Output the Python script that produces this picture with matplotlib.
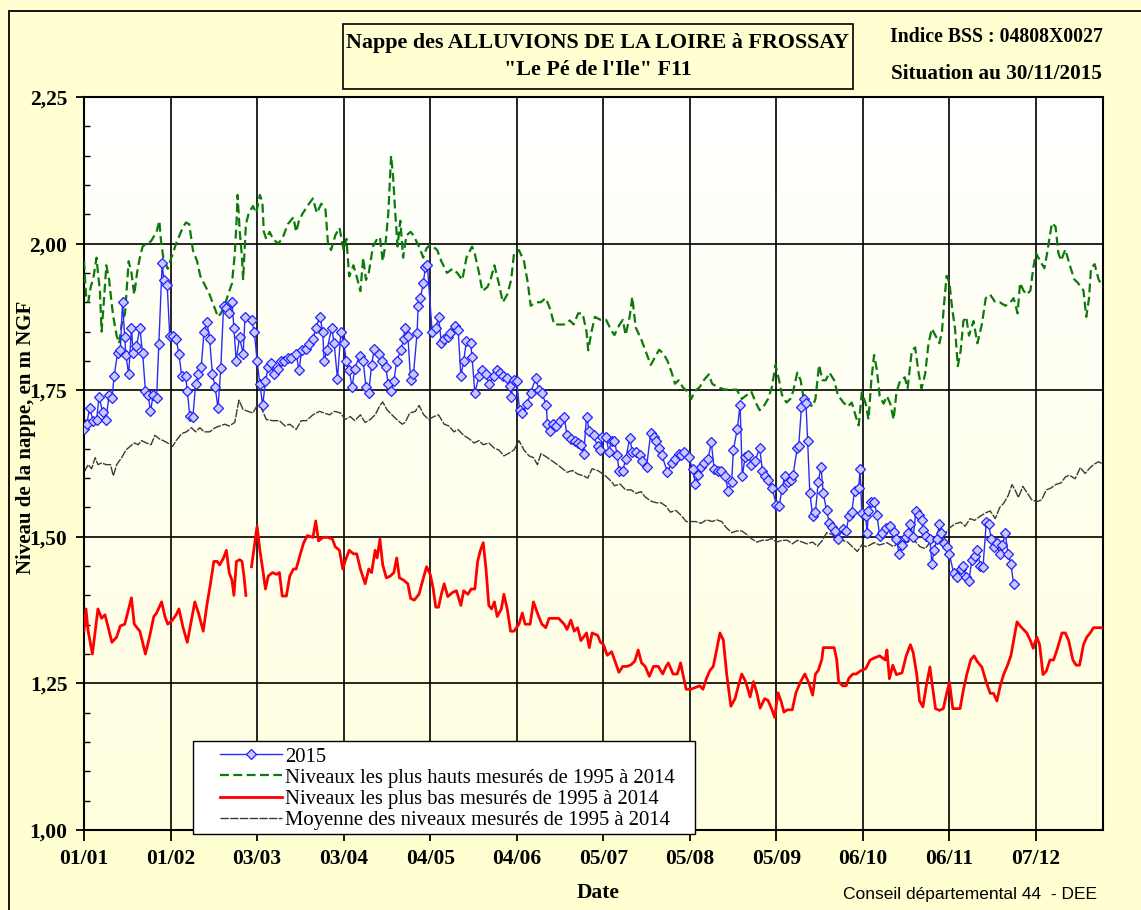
import numpy as np
import matplotlib
matplotlib.use("Agg")
import matplotlib.pyplot as plt
from matplotlib.patches import Rectangle
from matplotlib.colors import LinearSegmentedColormap
from matplotlib.ticker import FuncFormatter, MultipleLocator


# days counted from 01/01 (0) ; values in m NGF
TICK_DAYS = [0, 31, 62, 93, 124, 155, 186, 217, 248, 279, 310, 341]
TICK_LABELS = ["01/01", "01/02", "03/03", "03/04", "04/05", "04/06",
               "05/07", "05/08", "05/09", "06/10", "06/11", "07/12"]

blue_days = [
    0, 1, 2, 3.3, 4.5, 5.4, 6.7, 7.9, 9, 10, 10.8, 12, 13, 13.8, 14.6, 15, 16, 17,
    17.6, 18.8, 20, 21, 22, 23, 23.8, 24.8, 26, 26.8, 28, 28.6, 29.8, 30.7, 32, 33,
    34, 35, 36.4, 37, 37.9, 39, 40, 41, 42, 43, 44, 45, 46, 47, 48, 49, 50, 51, 52,
    53, 53.7, 54.5, 55.7, 57, 57.7, 60, 61, 62, 63, 64, 65, 66, 67, 68, 69.6, 70.6,
    71.8, 73, 74, 76, 77, 78, 79.5, 80.7, 82, 83, 84.5, 85.5, 86, 87, 88.7, 89.6,
    90.8, 92, 93, 94, 95, 96, 97, 98.7, 100, 101, 102, 103, 104, 105.5, 106.7, 108,
    109, 110, 111, 112, 113.5, 114.5, 115, 116, 117, 118, 119.3, 119.7, 120.5,
    121.5, 122.3, 123, 124.7, 126, 127, 128, 129, 130.5, 131, 133, 134, 135, 136,
    137, 138.5, 139, 140, 141.5, 142.6, 144, 145, 147, 148, 149, 150, 151.6, 152.6,
    153, 154, 155, 156, 157, 158.8, 160, 161.8, 163, 164, 165.6, 166, 167, 168,
    169, 170.5, 172, 173, 174.6, 175.8, 177, 178, 179, 180, 181, 182.5, 184, 185,
    185.6, 187, 188, 189, 190, 191, 191.6, 193, 194, 195.5, 196.4, 197.6, 199, 200,
    201.5, 203, 204, 205, 206, 207, 209, 210.5, 211.7, 213, 214, 215, 216.6, 218,
    219, 220, 221, 222, 223.5, 224.7, 225.7, 227, 228, 229.6, 230.8, 232, 232.6,
    234, 235, 235.8, 236.8, 238, 239, 240.4, 242, 243, 244, 245, 246.4, 248, 249,
    250, 251, 252, 253.4, 254, 255.5, 256, 257, 258, 258.6, 259.2, 260, 261, 262,
    263, 264, 264.8, 266, 267, 268, 269, 270, 271.7, 273, 274, 275, 276, 277.5,
    278, 278.6, 280, 280.5, 281, 282, 283, 284, 285, 286, 287.3, 288.8, 290, 291,
    292, 293, 294.5, 295, 296, 297, 298, 299, 300, 300.7, 301.7, 303, 303.7, 304.5,
    305.5, 306.4, 307, 308, 309, 310, 311.5, 312.6, 314, 315, 316, 317, 318, 319,
    320, 321, 322, 323.2, 324, 325, 326, 327, 328, 329, 330, 331, 332, 333,
]
blue_vals = [
    1.683, 1.692, 1.719, 1.698, 1.700, 1.739, 1.712, 1.700, 1.742, 1.736, 1.774,
    1.813, 1.818, 1.900, 1.840, 1.810, 1.777, 1.856, 1.813, 1.825, 1.856, 1.813,
    1.749, 1.742, 1.714, 1.742, 1.736, 1.828, 1.967, 1.938, 1.929, 1.843, 1.843,
    1.837, 1.812, 1.774, 1.774, 1.749, 1.706, 1.705, 1.761, 1.777, 1.790, 1.850,
    1.866, 1.837, 1.777, 1.755, 1.719, 1.788, 1.894, 1.891, 1.881, 1.900, 1.856,
    1.800, 1.840, 1.812, 1.875, 1.869, 1.850, 1.800, 1.761, 1.724, 1.765, 1.790,
    1.796, 1.777, 1.787, 1.800, 1.800, 1.805, 1.805, 1.812, 1.784, 1.818, 1.820,
    1.828, 1.837, 1.856, 1.875, 1.850, 1.800, 1.818, 1.856, 1.830, 1.769, 1.850,
    1.830, 1.800, 1.784, 1.755, 1.787, 1.809, 1.800, 1.755, 1.746, 1.793, 1.821,
    1.812, 1.800, 1.790, 1.761, 1.749, 1.765, 1.800, 1.818, 1.837, 1.856, 1.843,
    1.768, 1.777, 1.847, 1.894, 1.907, 1.932, 1.960, 1.963, 1.850, 1.856, 1.875,
    1.831, 1.837, 1.840, 1.847, 1.860, 1.853, 1.774, 1.800, 1.834, 1.830, 1.806,
    1.746, 1.774, 1.784, 1.777, 1.761, 1.774, 1.784, 1.780, 1.774, 1.770, 1.758,
    1.739, 1.768, 1.765, 1.717, 1.711, 1.727, 1.746, 1.770, 1.750, 1.746, 1.724,
    1.692, 1.680, 1.692, 1.689, 1.698, 1.705, 1.673, 1.667, 1.664, 1.660, 1.657,
    1.642, 1.705, 1.680, 1.673, 1.654, 1.648, 1.671, 1.671, 1.645, 1.664, 1.664,
    1.639, 1.613, 1.613, 1.632, 1.668, 1.645, 1.645, 1.639, 1.629, 1.619, 1.677,
    1.671, 1.664, 1.652, 1.639, 1.610, 1.626, 1.632, 1.642, 1.639, 1.645, 1.636,
    1.616, 1.590, 1.606, 1.619, 1.626, 1.632, 1.661, 1.616, 1.613, 1.613, 1.603,
    1.578, 1.594, 1.648, 1.684, 1.725, 1.603, 1.636, 1.639, 1.623, 1.629, 1.652,
    1.613, 1.603, 1.597, 1.584, 1.555, 1.552, 1.581, 1.603, 1.594, 1.597, 1.606,
    1.652, 1.655, 1.722, 1.735, 1.729, 1.664, 1.574, 1.536, 1.542, 1.594, 1.619,
    1.574, 1.545, 1.523, 1.516, 1.510, 1.497, 1.513, 1.510, 1.536, 1.542, 1.578,
    1.584, 1.615, 1.541, 1.535, 1.506, 1.544, 1.560, 1.560, 1.538, 1.502, 1.506,
    1.515, 1.519, 1.509, 1.496, 1.470, 1.486, 1.499, 1.506, 1.522, 1.499, 1.544,
    1.538, 1.528, 1.512, 1.502, 1.496, 1.454, 1.477, 1.496, 1.522, 1.506, 1.490,
    1.483, 1.470, 1.438, 1.432, 1.445, 1.451, 1.432, 1.425, 1.461, 1.467, 1.477,
    1.451, 1.448, 1.525, 1.522, 1.496, 1.483, 1.490, 1.470, 1.486, 1.506, 1.470,
    1.454, 1.419,
]

high_days = [
    0, 0.7, 1.5, 2.4, 3.3, 4.5, 5, 5.7, 6.3, 7, 8, 9, 10, 10.5, 11.7, 12.6, 13.5,
    14.7, 16, 17, 18, 19, 20, 21, 22.4, 24, 26, 27, 27.5, 28.4, 30, 31.3, 33, 35,
    36.5, 37.7, 39, 40.5, 41.7, 43, 45, 46.5, 48, 49, 50.4, 51.6, 53, 54, 54.6, 55,
    55.8, 56.6, 57, 58, 59, 60.5, 61.7, 63, 63.9, 64.4, 65.3, 66.5, 67.7, 69.5, 71,
    73, 75, 76, 77, 78.4, 80, 82, 83.4, 85, 86.5, 87.4, 88.5, 90, 91.5, 93, 94, 95,
    96.5, 98, 99, 100, 101, 102, 103.5, 105, 106, 107, 108, 109, 109.5, 110, 110.7,
    111.5, 112.3, 113.3, 114.3, 115.5, 117, 118, 120, 121.5, 122.7, 124, 125,
    126.5, 128, 130, 132, 133.7, 135.5, 137, 139, 140, 141.5, 142.7, 144.5, 145.6,
    147, 148.6, 150, 151.6, 153, 154, 155.8, 157.6, 159, 160, 162, 163.6, 165.4,
    167, 168.4, 170, 172, 174, 175.4, 177, 178.6, 180, 180.6, 181.8, 183, 185, 187,
    189, 190, 191.6, 193, 194, 195.5, 196.4, 197.6, 199.5, 201, 203, 204.5, 206,
    207.6, 209, 210.5, 211.7, 213, 214.5, 216, 217.5, 218.7, 220.5, 222, 223.8,
    225, 227, 229.6, 232, 233.8, 235.6, 237.4, 239, 240.6, 242, 243.4, 245, 246.4,
    247.7, 249, 250, 251.6, 253, 254, 255.5, 256.7, 258, 259, 261, 262, 263.3,
    264.5, 265.7, 267, 268.7, 270, 272, 273.6, 275, 276.6, 277.5, 278.6, 280, 281,
    282, 283, 284, 285, 286.4, 287.6, 288.8, 290, 291, 292.3, 294, 295, 296.5,
    297.7, 299, 300, 301.3, 302.5, 303.7, 305, 306.4, 307.3, 308, 309, 310, 311,
    312, 313, 314, 315, 316, 317, 318.6, 320, 321.6, 323, 324.6, 326.4, 328, 330,
    331.8, 333, 334.4, 335.3, 336.5, 337.7, 339, 340, 341, 342.4, 344, 345, 346.7,
    348, 349, 350, 351.5, 353, 354.7, 356, 358, 359, 360, 360.7, 362, 363.4, 365,
]
high_vals = [
    1.970, 1.913, 1.900, 1.926, 1.940, 1.976, 1.950, 1.920, 1.850, 1.894, 1.963,
    1.938, 1.894, 1.875, 1.843, 1.830, 1.862, 1.881, 1.970, 1.950, 1.913, 1.950,
    1.976, 1.995, 2.000, 2.004, 2.020, 2.039, 2.008, 1.976, 1.957, 1.976, 2.000,
    2.023, 2.036, 2.033, 1.989, 1.970, 1.944, 1.932, 1.913, 1.894, 1.875, 1.881,
    1.894, 1.913, 1.932, 1.982, 2.033, 2.083, 2.020, 1.976, 1.938, 2.033, 2.052,
    2.064, 2.052, 2.083, 2.070, 2.020, 2.008, 2.020, 2.008, 2.000, 2.008, 2.033,
    2.045, 2.020, 2.039, 2.052, 2.064, 2.077, 2.052, 2.068, 2.058, 2.000, 1.989,
    2.014, 2.027, 1.989, 2.008, 1.944, 1.963, 1.938, 1.919, 1.976, 1.938, 1.950,
    1.995, 2.008, 2.011, 1.970, 2.000, 2.052, 2.102, 2.150, 2.115, 2.052, 1.995,
    2.039, 1.976, 2.014, 2.020, 2.014, 1.995, 1.976, 1.992, 1.998, 1.995, 1.989,
    1.970, 1.950, 1.957, 1.950, 1.938, 1.976, 1.995, 1.982, 1.950, 1.919, 1.926,
    1.938, 1.963, 1.932, 1.900, 1.913, 1.938, 1.982, 1.989, 1.970, 1.932, 1.894,
    1.900, 1.900, 1.907, 1.888, 1.862, 1.862, 1.862, 1.869, 1.862, 1.881, 1.881,
    1.850, 1.818, 1.850, 1.875, 1.870, 1.870, 1.851, 1.844, 1.860, 1.870, 1.844,
    1.877, 1.909, 1.857, 1.838, 1.819, 1.793, 1.806, 1.819, 1.812, 1.800, 1.780,
    1.761, 1.767, 1.755, 1.748, 1.735, 1.748, 1.755, 1.767, 1.777, 1.761, 1.755,
    1.751, 1.751, 1.751, 1.735, 1.742, 1.748, 1.729, 1.716, 1.722, 1.735, 1.755,
    1.793, 1.767, 1.742, 1.729, 1.735, 1.748, 1.780, 1.767, 1.729, 1.729, 1.722,
    1.735, 1.793, 1.767, 1.767, 1.780, 1.767, 1.742, 1.729, 1.722, 1.729, 1.703,
    1.690, 1.746, 1.727, 1.700, 1.766, 1.810, 1.785, 1.740, 1.727, 1.740, 1.727,
    1.700, 1.746, 1.766, 1.772, 1.753, 1.817, 1.823, 1.778, 1.753, 1.778, 1.830,
    1.855, 1.843, 1.830, 1.849, 1.894, 1.945, 1.933, 1.888, 1.855, 1.791, 1.817,
    1.868, 1.875, 1.843, 1.868, 1.830, 1.862, 1.907, 1.913, 1.900, 1.900, 1.894,
    1.900, 1.907, 1.881, 1.933, 1.920, 1.913, 1.920, 1.958, 1.984, 1.971, 1.958,
    1.984, 2.035, 2.029, 1.984, 1.971, 1.990, 1.965, 1.939, 1.933, 1.920, 1.875,
    1.907, 1.958, 1.965, 1.939, 1.926,
]

low_days = [
    0, 0.7, 1.5, 3, 4, 5, 6.3, 7.5, 8.7, 10, 11.7, 13, 14.6, 16, 17, 18, 20, 21,
    22, 23.6, 25, 26, 27.8, 29, 30, 31.7, 33, 34, 35.5, 37, 38.5, 39.7, 41, 42.7,
    44, 45.3, 46.5, 47.7, 48.6, 50, 51, 52, 53, 53.7, 54.6, 55.8, 56.6, 57.3, 58,
    59, 60, 61, 62, 63, 64, 65, 66, 67.5, 69, 70, 71, 72.5, 73.7, 75, 76, 77.5,
    78.7, 80, 82, 83, 84, 85.6, 87.4, 89, 90, 91.5, 92.7, 93.5, 95, 96.5, 97.7, 99,
    100.7, 102, 103, 104.3, 105, 106, 107, 108.3, 109.7, 111, 112, 113, 114.5, 116,
    117, 118.3, 120, 121, 122.7, 124, 125, 126, 127, 128, 129, 130.3, 132, 133.4,
    135, 136, 137.5, 138.7, 140, 141, 142, 143, 144, 145, 146, 147, 148, 149.5,
    150.4, 151.6, 152.8, 154, 155.8, 157, 158, 159.8, 161, 162.4, 164, 165.4,
    166.6, 168.4, 170, 172, 173, 174.4, 175.6, 176.8, 178, 180, 181, 182, 184, 185,
    186, 187.4, 189, 190.4, 191.6, 193, 194.6, 196, 197.3, 198.5, 199.7, 201,
    202.5, 204, 205.7, 207.3, 208.5, 209.3, 211, 212.5, 213.7, 214.5, 215.7, 217.3,
    219, 220.5, 221.7, 223, 224.2, 225.4, 226.6, 227.8, 229, 230.2, 231.7, 233.2,
    234.4, 235.6, 237, 238.6, 239.8, 241, 242.2, 243.8, 245, 246.2, 247.4, 248.6,
    249.8, 250.7, 251.9, 253.7, 255, 256.7, 258.2, 259.7, 261, 262, 263, 264.3,
    264.8, 267, 268.7, 269.6, 270.3, 271.7, 273, 274, 275.4, 276.6, 278, 280,
    281.6, 283.4, 285, 287, 287.6, 288.5, 289.7, 291, 293, 294.5, 296, 297, 298.3,
    299.3, 300.5, 301.7, 303, 303.7, 305, 306.4, 307.8, 309, 310, 311.2, 312.6,
    313.8, 315, 316.2, 317.6, 318.8, 320, 321.6, 323.2, 324.6, 325.8, 327, 328.2,
    329.4, 330.8, 332, 333, 334.2, 335.3, 336.5, 337.7, 339, 340, 341.3, 342.3,
    343.5, 344.7, 346, 347.3, 348.7, 350.3, 351.5, 352.7, 354.2, 355.4, 356.6, 358,
    359.2, 360.4, 361.6, 362.8, 365,
]
low_vals = [
    1.339, 1.377, 1.339, 1.300, 1.339, 1.377, 1.361, 1.367, 1.345, 1.320, 1.329,
    1.348, 1.351, 1.377, 1.396, 1.351, 1.339, 1.320, 1.300, 1.332, 1.364, 1.370,
    1.389, 1.364, 1.351, 1.358, 1.367, 1.377, 1.345, 1.320, 1.358, 1.389, 1.370,
    1.339, 1.383, 1.420, 1.458, 1.458, 1.452, 1.464, 1.477, 1.439, 1.426, 1.400,
    1.458, 1.461, 1.458, 1.433, 1.400, np.nan, 1.449, 1.483, 1.518, 1.477, 1.445,
    1.411, 1.433, 1.439, 1.436, 1.439, 1.399, 1.399, 1.433, 1.445, 1.445, 1.471,
    1.490, 1.502, 1.499, 1.527, 1.493, 1.499, 1.499, 1.496, 1.483, 1.477, 1.445,
    1.458, 1.477, 1.471, 1.471, 1.445, 1.420, 1.445, 1.439, 1.477, 1.464, 1.496,
    1.452, 1.430, 1.433, 1.439, 1.464, 1.430, 1.426, 1.420, 1.395, 1.392, 1.402,
    1.420, 1.449, 1.436, 1.414, 1.380, 1.380, 1.402, 1.420, 1.398, 1.405, 1.408,
    1.383, 1.408, 1.402, 1.411, 1.411, 1.458, 1.477, 1.490, 1.445, 1.383, 1.377,
    1.389, 1.364, 1.377, 1.402, 1.377, 1.339, 1.339, 1.351, 1.370, 1.351, 1.351,
    1.389, 1.370, 1.351, 1.345, 1.361, 1.361, 1.361, 1.351, 1.342, 1.358, 1.339,
    1.345, 1.323, 1.336, 1.311, 1.336, 1.332, 1.320, 1.317, 1.298, 1.304, 1.285,
    1.269, 1.279, 1.279, 1.282, 1.288, 1.307, 1.285, 1.279, 1.262, 1.279, 1.279,
    1.266, 1.279, 1.285, 1.266, 1.266, 1.285, 1.266, 1.240, 1.240, 1.243, 1.246,
    1.240, 1.259, 1.272, 1.279, 1.307, 1.336, 1.324, 1.266, 1.211, 1.224, 1.246,
    1.266, 1.253, 1.227, 1.253, 1.234, 1.208, 1.224, 1.221, 1.208, 1.192, 1.234,
    1.218, 1.201, 1.205, 1.205, 1.234, 1.253, 1.266, 1.250, 1.230, 1.266, 1.272,
    1.291, 1.311, 1.311, 1.311, 1.291, 1.253, 1.246, 1.246, 1.259, 1.266, 1.266,
    1.271, 1.275, 1.290, 1.294, 1.297, 1.290, 1.307, 1.258, 1.281, 1.265, 1.268,
    1.297, 1.316, 1.303, 1.265, 1.220, 1.210, 1.246, 1.278, 1.252, 1.207, 1.204,
    1.207, 1.233, 1.252, 1.207, 1.207, 1.207, 1.239, 1.265, 1.290, 1.297, 1.287,
    1.278, 1.252, 1.233, 1.233, 1.220, 1.246, 1.265, 1.281, 1.297, 1.323, 1.355,
    1.348, 1.342, 1.336, 1.323, 1.310, 1.329, 1.316, 1.265, 1.271, 1.290, 1.290,
    1.310, 1.336, 1.336, 1.323, 1.290, 1.281, 1.281, 1.316, 1.329, 1.336, 1.345,
    1.345, 1.345,
]

mean_days = [
    0, 1.5, 2.7, 4, 5, 6.3, 8, 9.5, 10.5, 11.7, 13.5, 15, 16.5, 18, 19.4, 20.6,
    22.4, 24, 25.4, 27, 28.4, 30, 31.7, 33, 35, 36.7, 38.5, 40, 41.5, 43, 45, 47,
    48.6, 50.4, 52, 54, 55.5, 57, 60.5, 62, 63.5, 65.3, 67.7, 70, 72, 73.7, 76,
    77.8, 79.6, 82, 84.4, 86, 88, 89.7, 92, 93.5, 95.4, 97, 99, 100.7, 102.5, 104.3,
    106, 107, 108.5, 110.3, 112, 114, 115, 116.7, 118.7, 120, 121.7, 123.5, 125.3,
    127, 129, 130.7, 132.5, 134, 136, 138, 139.7, 141.5, 143, 145, 147, 148.6,
    150.4, 152, 154, 155.8, 157.6, 159.4, 161, 162.4, 163.7, 166, 167.8, 169.6,
    171.4, 173, 175, 176.8, 179, 180.4, 182, 184, 185, 187, 189, 190, 192, 194,
    196, 197.7, 199.5, 201, 203, 205, 206.7, 208.5, 210, 212, 214, 215.7, 217.5,
    219, 221, 223, 225, 226.6, 228.4, 230, 232, 233.8, 235.6, 237.4, 239, 241, 243,
    244.6, 246.4, 248, 250, 252, 253.7, 255.5, 257.3, 259, 261, 262.7, 264.5, 266,
    268, 270, 271.7, 273.5, 275, 277, 278.6, 280.4, 283, 285, 287.6, 290, 292.3,
    294.7, 297, 299.5, 301.3, 303, 305.5, 308, 310, 312, 314, 315.6, 317.4, 319,
    321, 323, 324.6, 326.4, 328, 329.4, 331, 332.4, 333.5, 334.7, 336.3, 337.7,
    339.5, 341.3, 343, 344.7, 346.3, 348, 350, 351.5, 353, 355, 356.9, 358.6,
    360.4, 361.9, 363.4, 365,
]
mean_vals = [
    1.610, 1.623, 1.616, 1.635, 1.623, 1.626, 1.623, 1.623, 1.604, 1.623, 1.635,
    1.648, 1.654, 1.660, 1.657, 1.664, 1.660, 1.657, 1.673, 1.667, 1.664, 1.660,
    1.654, 1.664, 1.676, 1.679, 1.686, 1.679, 1.686, 1.679, 1.679, 1.686, 1.689,
    1.692, 1.689, 1.695, 1.733, 1.717, 1.711, 1.724, 1.720, 1.700, 1.698, 1.698,
    1.689, 1.692, 1.683, 1.698, 1.698, 1.708, 1.714, 1.711, 1.708, 1.714, 1.711,
    1.700, 1.705, 1.698, 1.708, 1.695, 1.700, 1.708, 1.724, 1.730, 1.717, 1.708,
    1.700, 1.692, 1.695, 1.711, 1.714, 1.724, 1.708, 1.700, 1.705, 1.708, 1.692,
    1.689, 1.679, 1.683, 1.673, 1.667, 1.660, 1.664, 1.657, 1.660, 1.651, 1.648,
    1.638, 1.642, 1.648, 1.664, 1.648, 1.638, 1.635, 1.623, 1.642, 1.635, 1.629,
    1.623, 1.616, 1.610, 1.613, 1.607, 1.604, 1.600, 1.616, 1.613, 1.610, 1.603,
    1.594, 1.587, 1.590, 1.580, 1.580, 1.574, 1.577, 1.568, 1.561, 1.558, 1.558,
    1.552, 1.542, 1.545, 1.536, 1.526, 1.526, 1.526, 1.523, 1.529, 1.526, 1.529,
    1.526, 1.516, 1.507, 1.510, 1.510, 1.504, 1.497, 1.491, 1.494, 1.494, 1.497,
    1.491, 1.494, 1.494, 1.488, 1.494, 1.491, 1.488, 1.491, 1.484, 1.494, 1.507,
    1.504, 1.497, 1.494, 1.491, 1.484, 1.475, 1.486, 1.483, 1.490, 1.486, 1.490,
    1.483, 1.493, 1.490, 1.496, 1.483, 1.480, 1.490, 1.493, 1.502, 1.515, 1.522,
    1.525, 1.518, 1.531, 1.528, 1.535, 1.541, 1.544, 1.531, 1.550, 1.557, 1.570,
    1.589, 1.580, 1.567, 1.586, 1.576, 1.563, 1.560, 1.563, 1.580, 1.583, 1.589,
    1.592, 1.602, 1.605, 1.599, 1.618, 1.608, 1.618, 1.624, 1.628, 1.624,
]

W, H = 1141, 910
FIG_BG = "#FFFFD2"


def fx(px):
    return px / W


def fy(py):
    return 1 - py / H


def main():
    plt.rcParams["font.family"] = ["Liberation Serif", "DejaVu Serif"]

    fig = plt.figure(figsize=(W / 100, H / 100), dpi=100, facecolor=FIG_BG)

    # outer frame (only left and top edges are visible in the original)
    fig.add_artist(Rectangle((fx(9), -0.1), 1.5, fy(11) + 0.1, transform=fig.transFigure,
                             fill=False, edgecolor="black", lw=1.3))

    ax = fig.add_axes([fx(84), fy(830), fx(1103) - fx(84), fy(97) - fy(830)])

    # white-to-cream gradient behind the plot
    grad = np.linspace(0, 1, 256).reshape(-1, 1)
    cmap = LinearSegmentedColormap.from_list("bg", ["#FFFFFF", "#FFFFE0"])
    ax.imshow(grad, extent=[0, 1, 0, 1], transform=ax.transAxes, cmap=cmap,
              aspect="auto", origin="upper", zorder=0)

    ax.plot(mean_days, mean_vals, color="#3a3a3a", lw=1.0, ls=(0, (6, 1)),
            label="Moyenne des niveaux mesurés de 1995 à 2014", zorder=2)
    ax.plot(low_days, low_vals, color="#FF0000", lw=2.0,
            label="Niveaux les plus bas mesurés de 1995 à 2014", zorder=3)
    ax.plot(high_days, high_vals, color="#0B7A0B", lw=1.6, ls=(0, (4, 2)),
            label="Niveaux les plus hauts mesurés de 1995 à 2014", zorder=3)
    ax.plot(blue_days, blue_vals, color="#2a2aff", lw=1.0, marker="D", ms=4.8,
            mfc="#c8c8ff", mec="#2020ff", mew=0.9, label="2015", zorder=4)

    ax.set_xlim(0, 365)
    ax.set_ylim(1.0, 2.25)
    ax.set_xticks(TICK_DAYS)
    ax.set_xticklabels(TICK_LABELS)
    ax.yaxis.set_major_locator(MultipleLocator(0.25))
    ax.yaxis.set_minor_locator(MultipleLocator(0.05))
    ax.yaxis.set_major_formatter(FuncFormatter(lambda v, p: f"{v:.2f}".replace(".", ",")))

    ax.set_axisbelow(True)
    ax.grid(True, which="major", color="black", lw=1.2)
    for s in ax.spines.values():
        s.set_linewidth(1.5)

    ax.tick_params(axis="x", direction="out", length=8, width=1.3, pad=6,
                   labelsize=15.5)
    ax.tick_params(axis="y", which="major", direction="out", length=6, width=1.3,
                   pad=6, labelsize=15.5)
    ax.tick_params(axis="y", which="minor", direction="in", length=4, width=1.0)
    for lab in ax.get_xticklabels() + ax.get_yticklabels():
        lab.set_fontweight("bold")

    # legend: frame drawn separately so the entries can sit indented in it
    frame = Rectangle((fx(193), fy(834)), fx(695) - fx(193), fy(741) - fy(834),
                      transform=fig.transFigure, facecolor="white",
                      edgecolor="black", lw=1.0, zorder=9, clip_on=False)
    ax.add_artist(frame)
    handles, labels = ax.get_legend_handles_labels()
    order = [3, 2, 1, 0]
    leg = ax.legend([handles[i] for i in order], [labels[i] for i in order],
                    loc="upper left", bbox_to_anchor=(fx(218), fy(745)),
                    bbox_transform=fig.transFigure, borderaxespad=0,
                    fontsize=14.9, handlelength=3.0, handletextpad=0.15,
                    labelspacing=0.08, borderpad=0.1, frameon=False)
    leg.set_zorder(10)

    # title box
    fig.add_artist(Rectangle((fx(343), fy(89)), fx(853) - fx(343), fy(24) - fy(89),
                             transform=fig.transFigure, facecolor=FIG_BG,
                             edgecolor="black", lw=1.2))
    fig.text(fx(598), fy(43), "Nappe des ALLUVIONS DE LA LOIRE à FROSSAY",
             ha="center", va="center", fontsize=15.8, fontweight="bold")
    fig.text(fx(598), fy(70), "\"Le Pé de l'Ile\" F11",
             ha="center", va="center", fontsize=15.8, fontweight="bold")

    fig.text(fx(996), fy(37), "Indice BSS : 04808X0027", ha="center", va="center",
             fontsize=14.2, fontweight="bold")
    fig.text(fx(996), fy(74), "Situation au 30/11/2015", ha="center", va="center",
             fontsize=15.3, fontweight="bold")

    fig.text(fx(26), fy(437), "Niveau de la nappe, en m NGF", rotation=90,
             ha="center", va="center", fontsize=15, fontweight="bold")
    fig.text(fx(598), fy(893), "Date", ha="center", va="center",
             fontsize=15.5, fontweight="bold")
    fig.text(fx(970), fy(894), "Conseil départemental 44  - DEE", ha="center",
             va="center", fontsize=12.5, family="Liberation Sans")

    fig.savefig("out.png", dpi=100, facecolor=FIG_BG)


if __name__ == "__main__":
    main()
